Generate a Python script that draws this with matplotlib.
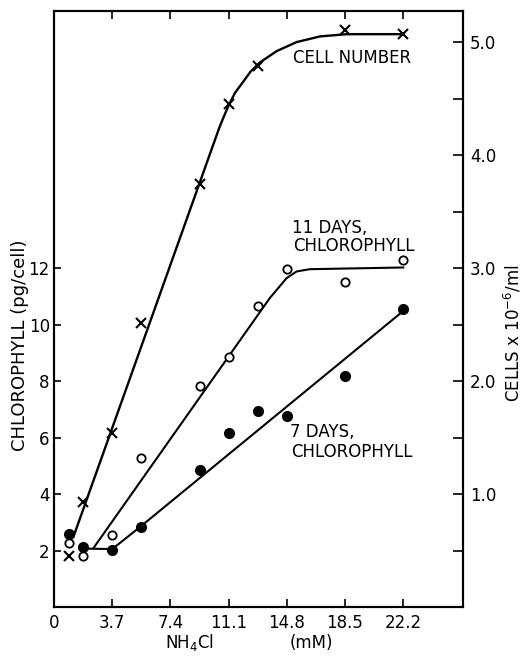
import matplotlib
matplotlib.use("Agg")
import matplotlib.pyplot as plt

# NH4Cl concentrations (mM)
conc = [0.93, 1.85, 3.7, 5.55, 9.25, 11.1, 12.95, 14.8, 18.5, 22.2]
chl_11d = [2.25, 1.81, 2.55, 5.29, 7.84, 8.86, 10.67, 11.95, 11.49, 12.28]
chl_7d = [2.58, 2.14, 2.02, 2.84, 4.85, 6.17, 6.94, 6.76, 8.18, 10.54]

# cell number (x 10^6 / ml), no count at 14.8 mM
cell_conc = [0.93, 1.85, 3.7, 5.55, 9.25, 11.1, 12.95, 18.5, 22.2]
cells = [0.45, 0.93, 1.54, 2.51, 3.74, 4.45, 4.79, 5.11, 5.07]

# hand-drawn fitted curves
fit_11d_x = [2.5, 13.72, 14.78, 15.42, 16.26, 22.2]
fit_11d_y = [2.08, 10.94, 11.64, 11.88, 11.96, 12.02]
fit_7d_x = [1.85, 3.7, 5.55, 22.2]
fit_7d_y = [2.07, 2.05, 2.87, 10.48]
fit_cell_x = [1.23, 10.5, 10.76, 11.07, 11.5, 12.03, 12.5, 13.09, 14.15, 15.42, 16.9, 18.6, 22.2]
fit_cell_y = [0.62, 4.24, 4.33, 4.43, 4.55, 4.65, 4.74, 4.82, 4.92, 5.00, 5.05, 5.07, 5.07]

x_ticks = [0, 3.7, 7.4, 11.1, 14.8, 18.5, 22.2]
x_ticklabels = ["0", "3.7", "7.4", "11.1", "14.8", "18.5", "22.2"]
left_ticks = [2, 4, 6, 8, 10, 12]
right_ticks = [1.0, 2.0, 3.0, 4.0, 5.0]
right_minor = [0.5, 1.5, 2.5, 3.5, 4.5]

plt.rcParams["font.family"] = ["DejaVu Sans"]

fig = plt.figure(figsize=(5.25, 6.56), dpi=100)
ax = fig.add_axes([0.1029, 0.0747, 0.7791, 0.9085])
ax2 = ax.twinx()

ax.plot(fit_11d_x, fit_11d_y, color="black", lw=1.5)
ax.plot(fit_7d_x, fit_7d_y, color="black", lw=1.5)
ax.plot(conc, chl_11d, "o", ms=6, mfc="white", mec="black", mew=1.3)
ax.plot(conc, chl_7d, "o", ms=7, mfc="black", mec="black")

ax2.plot(fit_cell_x, fit_cell_y, color="black", lw=1.7)
ax2.plot(cell_conc, cells, "x", ms=7, mec="black", mew=1.5)

ax.set_xlim(0, 26)
ax.set_ylim(0, 21.1)
ax2.set_ylim(0, 21.1 / 4)

ax.set_xticks(x_ticks)
ax.set_xticklabels(x_ticklabels)
ax.set_yticks(left_ticks)
ax2.set_yticks(right_ticks)
ax2.set_yticklabels(["%.1f" % v for v in right_ticks])
ax2.set_yticks(right_minor, minor=True)

ax.tick_params(axis="x", direction="in", length=6, width=1.2, top=True,
               labelsize=12, pad=5)
ax.tick_params(axis="y", direction="in", length=5, width=1.2, labelsize=12, pad=3)
ax2.tick_params(axis="y", which="both", direction="in", length=7, width=1.2,
                labelsize=12, pad=5)

for a in (ax, ax2):
    for s in a.spines.values():
        s.set_linewidth(1.5)

ax.text(15.2, 19.45, "CELL NUMBER", fontsize=12, ha="left", va="center")
ax.text(15.1, 13.43, "11 DAYS,", fontsize=12, ha="left", va="center")
ax.text(15.2, 12.79, "CHLOROPHYLL", fontsize=12, ha="left", va="center")
ax.text(14.99, 6.21, "7 DAYS,", fontsize=12, ha="left", va="center")
ax.text(15.1, 5.5, "CHLOROPHYLL", fontsize=12, ha="left", va="center")

xt = ax.get_xaxis_transform()
ax.text(8.64, -0.06, "NH$_4$Cl", transform=xt, fontsize=12, ha="center", va="center")
ax.text(16.37, -0.06, "(mM)", transform=xt, fontsize=12, ha="center", va="center")

fig.text(20 / 525, 1 - 345 / 656, "CHLOROPHYLL (pg/cell)", rotation=90,
         fontsize=13, ha="center", va="center")
fig.text(513 / 525, 1 - 333 / 656, "CELLS x 10$^{-6}$/ml", rotation=90,
         fontsize=12, ha="center", va="center")

fig.savefig("out.png", dpi=100)
